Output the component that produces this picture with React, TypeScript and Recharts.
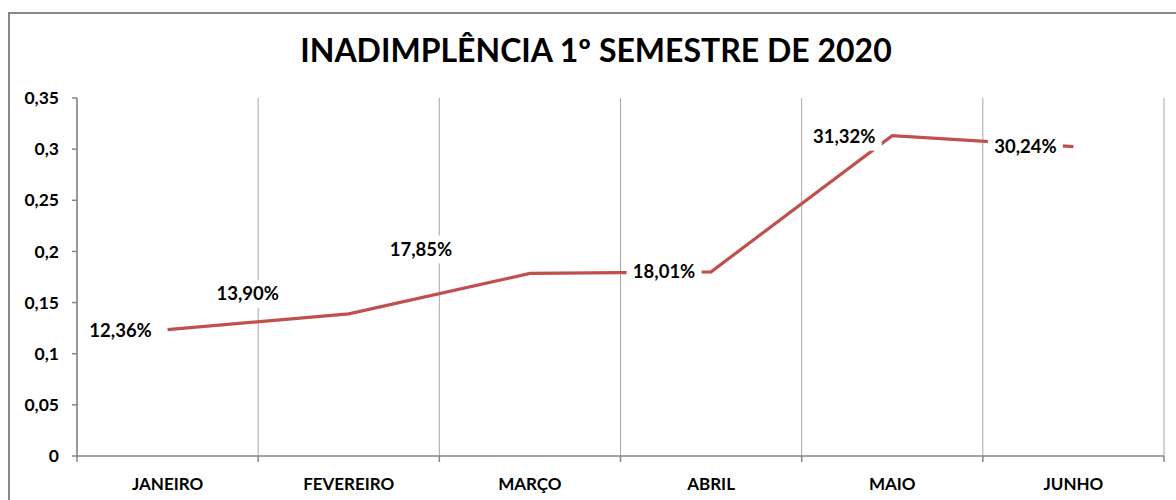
import React from 'react';
import { LineChart, Line, XAxis, YAxis, CartesianGrid, LabelList } from 'recharts';

const months = ['JANEIRO', 'FEVEREIRO', 'MARÇO', 'ABRIL', 'MAIO', 'JUNHO'];
const inadimplencia = [0.1236, 0.139, 0.1785, 0.1801, 0.3132, 0.3024];
const pctLabels = ['12,36%', '13,90%', '17,85%', '18,01%', '31,32%', '30,24%'];
const yTicks = [0, 0.05, 0.1, 0.15, 0.2, 0.25, 0.3, 0.35];
const boundaryTicks = [0, 1, 2, 3, 4, 5, 6];

// where each data label sits relative to its point (moved by hand in the original)
const labelShift = [
  { dx: -47, dy: 1 },
  { dx: -101, dy: -20 },
  { dx: -109, dy: -24 },
  { dx: -47, dy: 0 },
  { dx: -48, dy: 1 },
  { dx: -48, dy: 0 },
];

const FONT = 'Lato, "Open Sans", sans-serif';
const RED = '#C0504D';
const AXIS = '#868686';
const GRID = '#A6A6A6';

const data = months.map((m, i) => ({ month: m, pos: i + 0.5, value: inadimplencia[i] }));
const centerTicks = months.map((_, i) => i + 0.5);

const fmt = (v: number) => String(v).replace('.', ',');

function PctLabel(props: any) {
  const { x, y, index } = props;
  const s = labelShift[index] || { dx: -47, dy: 0 };
  const cx = x + s.dx;
  const cy = y + s.dy;
  const w = 75;
  const h = 28;
  return (
    <g>
      <rect x={cx - w / 2} y={cy - h / 2} width={w} height={h} fill="#fff" />
      <text x={cx} y={cy + 6.5} textAnchor="middle" fontFamily={FONT} fontWeight={700} fontSize={18.5} fill="#000">
        {pctLabels[index]}
      </text>
    </g>
  );
}

export default function App() {
  return (
    <div style={{ position: 'absolute', left: 0, top: 0, width: 1176, height: 500, overflow: 'hidden', background: '#fff' }}>
      <div style={{ position: 'absolute', left: 8, top: 12, width: 1200, height: 520, borderLeft: `2px solid ${AXIS}`, borderTop: `2px solid ${AXIS}` }} />
      <div style={{ position: 'absolute', left: 0, top: 0 }}>
        <LineChart
          width={1176}
          height={500}
          data={data}
          margin={{ top: 98, right: 12, left: 0, bottom: 14 }}
        >
          <CartesianGrid horizontal={false} stroke={GRID} strokeWidth={1} />
          <XAxis
            type="number"
            dataKey="pos"
            domain={[0, 6]}
            ticks={boundaryTicks}
            tickFormatter={() => ''}
            tickSize={6}
            height={1}
            stroke={AXIS}
            strokeWidth={1.5}
          />
          <XAxis
            xAxisId="lab"
            type="number"
            dataKey="pos"
            domain={[0, 6]}
            ticks={centerTicks}
            tickFormatter={(v: number) => months[Math.floor(v)]}
            axisLine={false}
            tickLine={false}
            tickSize={0}
            tickMargin={21}
            height={29}
            tick={{ fontFamily: FONT, fontWeight: 700, fontSize: 17, fill: '#000' }}
          />
          <YAxis
            domain={[0, 0.35]}
            ticks={yTicks}
            tickFormatter={fmt}
            width={77}
            tickSize={5}
            tickMargin={13}
            stroke={AXIS}
            strokeWidth={1.5}
            tick={{ fontFamily: FONT, fontWeight: 700, fontSize: 17.5, fill: '#000' }}
          />
          <Line
            type="linear"
            dataKey="value"
            stroke={RED}
            strokeWidth={3.2}
            dot={false}
            isAnimationActive={false}
          >
            <LabelList dataKey="value" content={PctLabel} />
          </Line>
        </LineChart>
      </div>
      <svg width={1176} height={500} style={{ position: 'absolute', left: 0, top: 0, pointerEvents: 'none' }}>
        <text x={596} y={62} textAnchor="middle" fontFamily={FONT} fontWeight={700} fontSize={32} fill="#000">
          INADIMPLÊNCIA 1º SEMESTRE DE 2020
        </text>
      </svg>
    </div>
  );
}
